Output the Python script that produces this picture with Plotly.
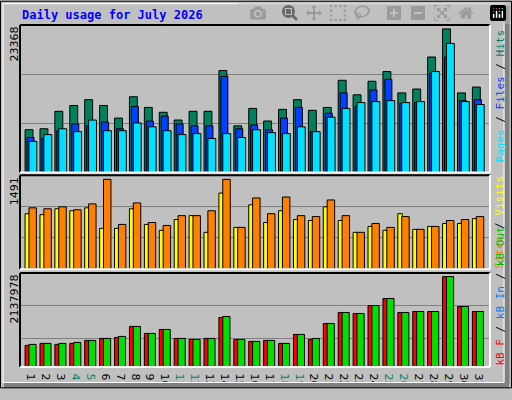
import plotly.graph_objects as go

days = list(range(1, 32))
weekend = [4, 5, 11, 12, 18, 19, 25, 26]
hits = [6948,7105,9947,10895,11842,10895,8842,12316,10579,9790,8526,9947,9947,16579,7579,10421,8368,10263,11842,10105,10579,15000,12632,14842,16421,12947,13579,18789,23368,12947,13895]
files = [5684,5526,6789,7895,7579,8211,7105,10737,8368,9158,7895,7579,7579,15632,7105,7737,6947,8842,10579,6632,9632,12947,10737,13421,15158,11211,11368,16105,18789,11684,11842]
pages = [5053,6158,7105,6632,8526,6789,6789,8053,7421,6789,6158,6316,5526,6316,5684,6947,6474,6316,7421,6632,9000,10421,11368,11526,11684,11368,11526,16421,21000,11526,11053]
visits = [921,905,1003,970,1019,678,678,1003,743,645,824,889,612,1263,694,1068,775,970,824,808,1035,808,612,710,645,921,661,710,759,759,840]
sites = [1019,1003,1035,986,1084,1491,743,1100,775,726,889,889,970,1491,694,1182,921,1198,889,873,1149,889,612,759,694,873,661,710,808,824,873]
kb_f = [510900,558060,534480,558060,628800,675960,699540,958920,793860,888180,675960,652380,675960,1171140,652380,605220,628800,558060,770280,652380,1029660,1289040,1265460,1454100,1619160,1289040,1312620,1312620,2137978,1430520,1312620]
kb_out = [534480,558060,558060,581640,628800,675960,723120,958920,793860,888180,675960,652380,675960,1194720,652380,605220,628800,558060,770280,675960,1029660,1289040,1265460,1454100,1619160,1289040,1312620,1312620,2137978,1430520,1312620]

fig = go.Figure()
line = dict(color="black", width=1)

def bar(y, color, offset, width, yaxis):
    fig.add_trace(go.Bar(x=days, y=y, marker=dict(color=color, line=line),
                         offset=offset, width=width, yaxis=yaxis, xaxis="x",
                         showlegend=False, hoverinfo="skip"))

bar(hits, "#00805C", -0.51, 0.53, "y")
bar(files, "#0040FF", -0.38, 0.47, "y")
bar(pages, "#00E0FF", -0.25, 0.53, "y")
bar(visits, "#FFFF00", -0.51, 0.3, "y2")
bar(sites, "#FF8000", -0.25, 0.5, "y2")
bar(kb_f, "#FF0000", -0.51, 0.3, "y3")
bar(kb_out, "#00E000", -0.25, 0.48, "y3")

ticktext = [f'<span style="color:#008060">{d}</span>' if d in weekend else str(d) for d in days]
ax_common = dict(showticklabels=False, gridcolor="#808080", gridwidth=1, zeroline=False,
                 ticks="", showline=False, fixedrange=True)
fig.update_layout(
    width=512, height=400, barmode="overlay",
    paper_bgcolor="#C0C0C0", plot_bgcolor="#C0C0C0",
    margin=dict(l=20, r=22, t=25, b=22),
    font=dict(family="DejaVu Sans", size=11, color="black"),
    xaxis=dict(range=[0.15, 31.67], tickvals=days, ticktext=ticktext, showgrid=False, anchor="y3",
               zeroline=False, ticks="", tickfont=dict(size=11, color="black")),
    yaxis=dict(domain=[0.569, 1], range=[0, 24000], tickvals=[8000, 16000], **ax_common),
    yaxis2=dict(domain=[0.286, 0.561], range=[0, 1561], tickvals=[520, 1040], **ax_common),
    yaxis3=dict(domain=[0, 0.275], range=[0, 2224000], tickvals=[676000, 1454000], **ax_common),
)

# panel frames: black top/left, white bottom/right
for dom in ([0.569, 1], [0.286, 0.561], [0, 0.275]):
    y0, y1 = dom
    fig.add_shape(type="line", xref="paper", yref="paper", x0=0, x1=1, y0=y1, y1=y1, line=dict(color="black", width=2))
    fig.add_shape(type="line", xref="paper", yref="paper", x0=0, x1=0, y0=y0, y1=y1, line=dict(color="black", width=2))
    fig.add_shape(type="line", xref="paper", yref="paper", x0=0, x1=1, y0=y0, y1=y0, line=dict(color="white", width=2))
    fig.add_shape(type="line", xref="paper", yref="paper", x0=1, x1=1, y0=y0, y1=y1, line=dict(color="white", width=2))

# outer frame
fig.add_shape(type="line", xref="paper", yref="paper", x0=1+17/470, x1=1+17/470, y0=-18/353, y1=1+20/353,
              line=dict(color="#808080", width=5))
fig.add_shape(type="line", xref="paper", yref="paper", x0=-16/470, x1=1+19/470, y0=-19/353, y1=-19/353,
              line=dict(color="#808080", width=5))
fig.add_shape(type="rect", xref="paper", yref="paper", x0=-17/470, x1=1+14/470, y0=-16/353, y1=1+22/353,
              line=dict(color="white", width=1))
fig.add_shape(type="rect", xref="paper", yref="paper", x0=-19.5/470, x1=1+21.5/470, y0=-21.5/353, y1=1+24.5/353,
              line=dict(color="black", width=1))

mono = "DejaVu Sans Mono"
fig.add_annotation(xref="paper", yref="paper", x=0, y=1+10/353, xanchor="left", yanchor="middle",
                   text="<b>Daily usage for July 2026</b>", showarrow=False,
                   font=dict(family=mono, size=12, color="#0000FF"))
for txt, ytop in (("23368", 1), ("1491", 0.561), ("2137978", 0.275)):
    fig.add_annotation(xref="paper", yref="paper", x=-6/470, y=ytop, xanchor="center", yanchor="top",
                       text=txt, textangle=-90, showarrow=False, font=dict(size=11, color="black"))

def span(t, c):
    return f'<span style="color:{c}">{t}</span>'

fig.add_annotation(xref="paper", yref="paper", x=1+10/470, y=1-2/353, xanchor="center", yanchor="top",
                   textangle=-90, showarrow=False, font=dict(family=mono, size=11),
                   text=span("Pages", "#00E0FF") + " / " + span("Files", "#0040FF") + " / " + span("Hits", "#008060"))
fig.add_annotation(xref="paper", yref="paper", x=1+10/470, y=0.561 + 2/353, xanchor="center", yanchor="top",
                   textangle=-90, showarrow=False, font=dict(family=mono, size=11),
                   text=span("Sites", "#FF8000") + " / " + span("Visits", "#FFFF00"))
fig.add_annotation(xref="paper", yref="paper", x=1+10/470, y=0, xanchor="center", yanchor="bottom",
                   textangle=-90, showarrow=False, font=dict(family=mono, size=11),
                   text=span("kB F", "#FF0000") + " / " + span("kB In", "#0080FF") + " / " + span("kB Out", "#00C000"))

fig.write_html("out.html", post_script="document.body.style.margin='0';")
